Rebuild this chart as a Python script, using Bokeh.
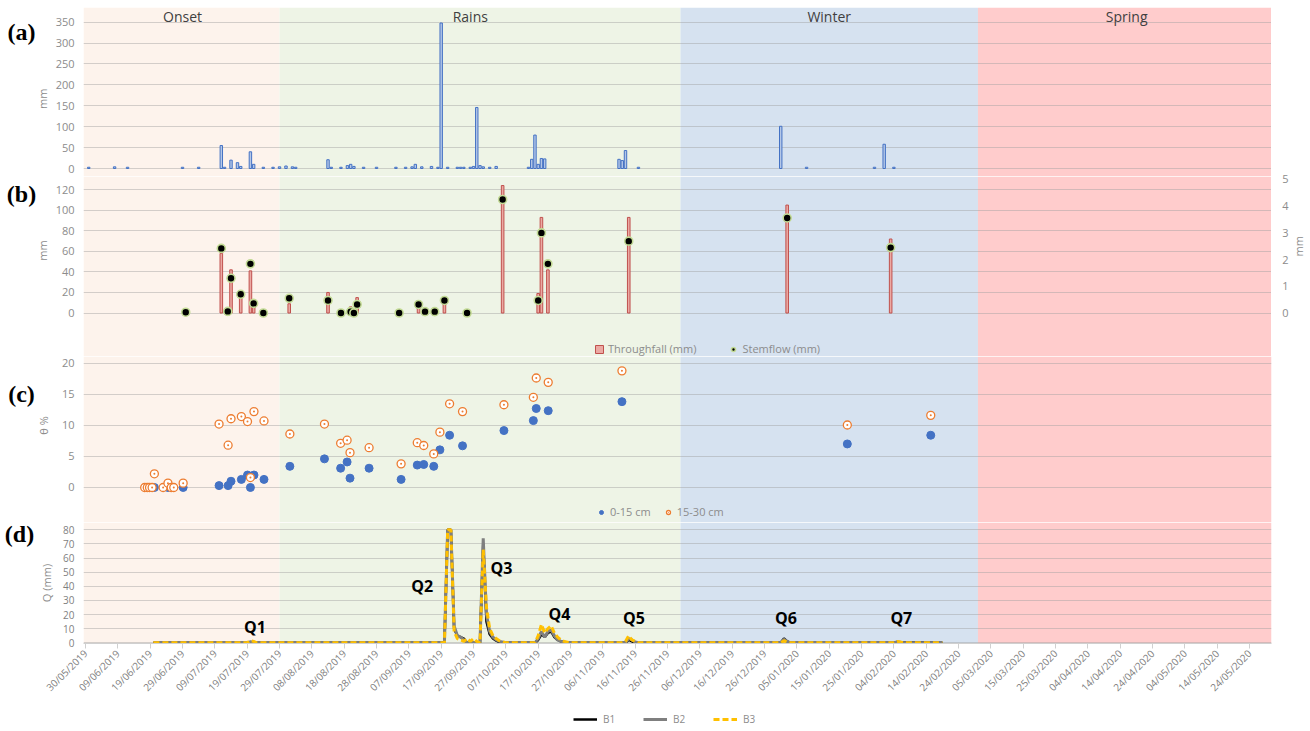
import math
from datetime import datetime, timedelta
from bokeh.plotting import figure
from bokeh.models import (Range1d, FixedTicker, DatetimeTickFormatter, BoxAnnotation,
                          Label, Legend, LegendItem)
from bokeh.layouts import column, row
from bokeh.embed import file_html
from bokeh.resources import INLINE
from bokeh.core.properties import value

# ---------------- data (x values are days since 30/05/2019) ----------------
START = datetime(2019, 5, 30)

X_TICK_LABELS = ["30/05/2019", "09/06/2019", "19/06/2019", "29/06/2019", "09/07/2019", "19/07/2019",
                 "29/07/2019", "08/08/2019", "18/08/2019", "28/08/2019", "07/09/2019", "17/09/2019",
                 "27/09/2019", "07/10/2019", "17/10/2019", "27/10/2019", "06/11/2019", "16/11/2019",
                 "26/11/2019", "06/12/2019", "16/12/2019", "26/12/2019", "05/01/2020", "15/01/2020",
                 "25/01/2020", "04/02/2020", "14/02/2020", "24/02/2020", "05/03/2020", "15/03/2020",
                 "25/03/2020", "04/04/2020", "14/04/2020", "24/04/2020", "04/05/2020", "14/05/2020",
                 "24/05/2020"]

SEASONS = ["Onset", "Rains", "Winter", "Spring"]
SEASON_STARTS = [None, "2019-07-29", "2019-11-30", "2020-03-01"]
SEASON_LABEL_AT = ["2019-06-29", "2019-09-26", "2020-01-15", "2020-04-16"]
SEASON_COLORS = ["#FDF3EC", "#EEF4E6", "#D6E2F0", "#FFCCCC"]

# (a) rainfall (mm)
RAIN_DAY = [1, 9, 13, 30, 35, 42, 43, 45, 47, 48, 51, 52, 55, 58, 60, 62, 64, 65, 75, 76,
            79, 81, 82, 83, 86, 90, 96, 99, 101, 102, 104, 107, 109, 110, 112, 115, 116, 117, 119, 120,
            121, 122, 123, 125, 127, 137, 138, 139, 140, 141, 142, 165, 166, 167, 171, 215, 223, 244, 247, 250]
RAIN_MM = [3, 4, 3, 3, 3, 55, 3, 20, 14, 5, 40, 10, 3, 3, 4, 6, 4, 3, 21, 3,
           3, 7, 10, 5, 3, 3, 3, 3, 4, 10, 4, 5, 3, 348, 3, 3, 3, 3, 3, 5,
           146, 7, 4, 3, 5, 3, 22, 80, 10, 24, 23, 22, 19, 43, 3, 101, 3, 3, 58, 3]

# (b) throughfall (mm, left axis) and stemflow (mm, right axis)
TF_DAY = [42, 45, 48, 51, 52, 63, 75, 82, 84, 103, 111, 129, 140, 141, 143, 168, 217, 249]
TF_MM = [58, 42, 16, 41, 6, 9, 20, 6, 15, 8, 9, 124, 19, 93, 42, 93, 105, 72]
SF_DAY = [31, 42, 44, 45, 48, 51, 52, 55, 63, 75, 79, 82, 83, 84, 97, 103, 105, 108, 111, 118,
          129, 140, 141, 143, 168, 217, 249]
SF_MM = [0.03, 2.42, 0.06, 1.3, 0.7, 1.84, 0.36, 0.0, 0.55, 0.47, 0.0, 0.05, 0.0, 0.32, 0.0, 0.32,
         0.05, 0.05, 0.47, 0.0, 4.25, 0.47, 3.0, 1.84, 2.69, 3.56, 2.45]

# (c) soil moisture theta %
S15_DAY = [21.3, 25.5, 30.2, 41.3, 44.1, 45.0, 48.2, 50.1, 51.0, 52.1, 55.2, 63.2, 73.9, 78.9, 80.9,
           81.8, 87.7, 97.6, 102.6, 104.6, 107.7, 109.6, 112.6, 116.6, 129.4, 138.5, 139.4, 143.1,
           165.9, 235.6, 261.4]
S15_TH = [0, 0, 0, 0.3, 0.3, 1.0, 1.3, 2.0, 0, 2.0, 1.3, 3.4, 4.6, 3.1, 4.1,
          1.5, 3.1, 1.3, 3.6, 3.7, 3.4, 6.05, 8.4, 6.7, 9.15, 10.75, 12.7, 12.35,
          13.8, 7.0, 8.4]
S30_DAY = [18.3, 19.1, 19.8, 20.6, 21.3, 24.0, 25.5, 26.5, 27.3, 30.2, 41.3, 44.1, 45.0, 48.2, 50.1,
           51.0, 52.1, 55.2, 63.2, 73.9, 78.9, 80.9, 81.8, 87.7, 97.6, 102.6, 104.6, 107.7, 109.6,
           112.6, 116.6, 129.4, 138.5, 139.4, 143.1, 165.9, 235.6, 261.4]
S30_TH = [0, 0, 0, 0, 2.2, 0, 0.7, 0, 0, 0.7, 10.2, 6.8, 11.05, 11.4, 10.6,
          1.6, 12.2, 10.7, 8.6, 10.2, 7.1, 7.6, 5.6, 6.4, 3.8, 7.2, 6.75, 5.4, 8.9,
          13.45, 12.2, 13.3, 14.5, 17.6, 16.9, 18.75, 10.05, 11.6]

# (d) discharge Q (mm)
B1_DAY = [21, 50, 51, 52, 53, 111, 112, 113, 114, 115, 116, 117, 118, 122, 123, 124, 125, 126, 127, 128, 129,
          139, 140, 141, 142, 143, 144, 145, 146, 147, 149, 167, 168, 169, 170, 215, 216, 217, 218,
          250, 251, 252, 265]
B1_Q = [0, 0, 0.5, 0.3, 0, 0, 80, 80, 10, 5, 4, 3, 0, 0, 70, 15, 6, 3, 1.5, 0.5, 0,
        0, 2, 6, 4, 7, 8, 4, 2, 1, 0, 0, 2, 1, 0, 0, 3, 1, 0,
        0, 0.5, 0.3, 0]
B2_DAY = [21, 50, 51, 53, 111, 112, 113, 114, 115, 116, 117, 118, 122, 123, 124, 125, 126, 127, 128, 130,
          139, 140, 141, 142, 143, 144, 145, 146, 147, 149, 167, 168, 169, 170, 171, 215, 216, 217, 218,
          250, 251, 253, 265]
B2_Q = [0, 0, 0.5, 0, 0, 80, 80, 12, 5, 4, 2, 0, 0, 74, 20, 8, 4, 2, 1, 0,
        0, 3, 8, 4, 8, 9, 5, 2, 1, 0, 0, 3, 2, 0.5, 0, 0, 2.5, 1, 0,
        0, 0.5, 0, 0]
B3_DAY = [21, 50, 51, 52, 53, 111, 112, 113, 114, 115, 116, 117, 118, 119, 120, 121, 122, 123, 124, 125,
          126, 127, 128, 130, 139, 140, 141, 142, 143, 144, 145, 146, 147, 148, 150, 166, 167, 168, 169,
          170, 171, 215, 216, 217, 218, 250, 251, 252, 253, 265]
B3_Q = [0, 0, 1.5, 1, 0, 0, 80, 80, 8, 3, 2, 1, 3, 1, 3, 1, 0, 66, 25, 10,
        5, 3, 1.5, 0, 0, 5, 13, 7, 10, 12, 7, 4, 2, 1, 0, 0, 1, 5, 2,
        1, 0, 0, 1.5, 0.5, 0, 0, 1, 0.5, 0, 0]

Q_NAMES = ["Q1", "Q2", "Q3", "Q4", "Q5", "Q6", "Q7"]
Q_DAY = [52.4, 104.1, 128.6, 146.6, 169.6, 216.6, 252.3]
Q_Y = [11.5, 40.4, 53.3, 20.5, 17.7, 17.9, 17.7]

A_TICKS = [0, 50, 100, 150, 200, 250, 300, 350]
B_TICKS = [0, 20, 40, 60, 80, 100, 120]
B_RIGHT_TICKS = [0, 1, 2, 3, 4, 5]
C_TICKS = [0, 5, 10, 15, 20]
D_TICKS = [0, 10, 20, 30, 40, 50, 60, 70, 80]

# ---------------- helpers ----------------
DAY_MS = 86400000.0
EPOCH = datetime(1970, 1, 1)


def ms(dt):
    return (dt - EPOCH).total_seconds() * 1000.0


def days_to_dt(days):
    return [START + timedelta(days=float(d)) for d in days]


X0 = START + timedelta(days=-0.62)
X1 = X0 + timedelta(days=367.4)
xr = Range1d(ms(X0), ms(X1))

FONT = "Open Sans"
GRAY = "#8C8C8C"


def style_yaxis(ax, size="11px", color=GRAY, standoff=9):
    ax.axis_line_color = None
    ax.major_tick_line_color = None
    ax.minor_tick_line_color = None
    ax.major_tick_in = 0
    ax.major_tick_out = 0
    ax.minor_tick_in = 0
    ax.minor_tick_out = 0
    ax.major_label_text_color = color
    ax.major_label_text_font = FONT
    ax.major_label_text_font_size = size
    ax.major_label_standoff = standoff


def make_panel(width, height, y0, y1, ticks, left=33, right=39, top=0, bottom=0):
    p = figure(width=width, height=height, x_range=xr, y_range=Range1d(y0, y1),
               x_axis_type="datetime", x_axis_location="below" if bottom else None,
               toolbar_location=None, tools="", output_backend="svg", title=None,
               min_border_left=left, min_border_right=right, min_border_top=top, min_border_bottom=bottom)
    p.outline_line_color = None
    p.background_fill_color = "white"
    p.border_fill_color = "white"
    p.xgrid.visible = False
    ax = p.yaxis[0]
    ax.ticker = FixedTicker(ticks=ticks)
    style_yaxis(ax)
    p.ygrid.grid_line_color = "#A0A0A0"
    p.ygrid.grid_line_alpha = 0.45
    bounds = [ms(X0)] + [ms(datetime.fromisoformat(s)) for s in SEASON_STARTS[1:]] + [ms(X1)]
    for i, c in enumerate(SEASON_COLORS):
        p.add_layout(BoxAnnotation(left=bounds[i], right=bounds[i + 1], fill_color=c, fill_alpha=1.0,
                                   line_color=None, level="image"))
    return p


def side_fig(width, height, y_range=None, left=0):
    f = figure(width=width, height=height, x_range=Range1d(0, width - left),
               y_range=y_range if y_range is not None else Range1d(0, height),
               x_axis_location=None, y_axis_location="left" if left else None,
               toolbar_location=None, tools="", output_backend="svg", title=None,
               min_border=0, min_border_left=left)
    f.outline_line_color = None
    f.grid.visible = False
    f.border_fill_color = "white"
    f.background_fill_color = "white"
    return f


def side_text(f, texts, xs, ys, size="11px", color=GRAY, angle=0.0, font=FONT, style="normal"):
    f.text(x=xs, y=ys, text=texts, angle=angle, text_font=value(font), text_font_size=size,
           text_color=color, text_font_style=style, text_align="center", text_baseline="middle")


# page rows: A 0..176 (frame 7..176), B 176..356, C 356..522, D 522..705 (frame 522..643), legend 705..731
# ---------------- (a) ----------------
pa = make_panel(1221, 176, -19.1, 385.1, A_TICKS, right=0, top=7)
pa.vbar(x=days_to_dt(RAIN_DAY), top=RAIN_MM, bottom=0, width=0.75 * DAY_MS,
        fill_color="#B4C7E7", line_color="#4472C4", line_width=1)
for name, at in zip(SEASONS, SEASON_LABEL_AT):
    pa.add_layout(Label(x=ms(datetime.fromisoformat(at)), y=160, x_units="data", y_units="screen",
                        text=name, text_font=FONT, text_font_size="14px", text_color="#404040",
                        text_align="center", text_baseline="middle"))
la = side_fig(50, 176)
side_text(la, ["(a)"], [21], [151], size="24px", color="black", font="Liberation Serif", style="bold")
side_text(la, ["mm"], [42], [81], angle=math.pi / 2)

# ---------------- (b) ----------------
SF_RANGE_B = (-1.629, 5.112)
pb = make_panel(1221, 180, -42.3, 132.8, B_TICKS, right=0)
pb.extra_y_ranges = {"sf": Range1d(*SF_RANGE_B)}
tf_r = pb.vbar(x=days_to_dt(TF_DAY), top=TF_MM, bottom=0, width=0.8 * DAY_MS,
               fill_color="#EBA9A3", line_color="#C0504D", line_width=1)
sf_r = pb.scatter(x=days_to_dt(SF_DAY), y=SF_MM, y_range_name="sf", size=8, marker="circle",
                  fill_color="black", line_color="#C3DB95", line_width=1.6)
leg_b = Legend(items=[LegendItem(label="Throughfall (mm)", renderers=[tf_r]),
                      LegendItem(label="Stemflow (mm)", renderers=[sf_r])],
               location=(511, 0), orientation="horizontal", background_fill_alpha=0,
               border_line_color=None, label_text_font=FONT, label_text_font_size="11px",
               label_text_color=GRAY, glyph_width=10, glyph_height=10, label_height=12,
               spacing=32, padding=0, margin=0, label_standoff=4)
pb.add_layout(leg_b, "center")
lb = side_fig(50, 180)
side_text(lb, ["(b)"], [21], [163], size="24px", color="black", font="Liberation Serif", style="bold")
side_text(lb, ["mm"], [42], [106], angle=math.pi / 2)

# right (stemflow) axis: its own strip spanning rows A and B, same scale as the "sf" range of (b)
# strip page y 0..356; stemflow zero at page y 312.5 -> same mapping as SF_RANGE_B
px_per_unit = 180.0 / (SF_RANGE_B[1] - SF_RANGE_B[0])
r_top = SF_RANGE_B[1] + 176.0 / px_per_unit
rs = side_fig(39, 356, y_range=Range1d(SF_RANGE_B[0], r_top), left=20)
rs.yaxis[0].ticker = FixedTicker(ticks=B_RIGHT_TICKS)
style_yaxis(rs.yaxis[0], standoff=3)
side_text(rs, ["mm"], [7], [2.5], angle=math.pi / 2)

# ---------------- (c) ----------------
pc = make_panel(1260, 166, -5.63, 21.06, C_TICKS)
s15 = pc.scatter(x=days_to_dt(S15_DAY), y=S15_TH, size=8, marker="circle",
                 fill_color="#4472C4", line_color="#4472C4", line_width=1)
s30 = pc.scatter(x=days_to_dt(S30_DAY), y=S30_TH, size=8, marker="circle_dot",
                 fill_color="white", line_color="#ED7D31", line_width=1.3)
leg_c = Legend(items=[LegendItem(label="0-15 cm", renderers=[s15]),
                      LegendItem(label="15-30 cm", renderers=[s30])],
               location=(513, 3), orientation="horizontal", background_fill_alpha=0,
               border_line_color=None, label_text_font=FONT, label_text_font_size="11px",
               label_text_color=GRAY, glyph_width=10, glyph_height=10, label_height=12,
               spacing=12, padding=0, margin=0, label_standoff=4)
pc.add_layout(leg_c, "center")
lc = side_fig(50, 166)
side_text(lc, ["(c)"], [21], [129], size="24px", color="black", font="Liberation Serif", style="bold")
side_text(lc, ["θ %"], [43], [97], angle=math.pi / 2)

# ---------------- (d) ----------------
pd_ = make_panel(1274, 183, -0.5, 85.16, D_TICKS, left=47, bottom=62)
l1 = pd_.line(x=days_to_dt(B1_DAY), y=B1_Q, line_color="black", line_width=2.5)
l2 = pd_.line(x=days_to_dt(B2_DAY), y=B2_Q, line_color="#7F7F7F", line_width=3)
l3 = pd_.line(x=days_to_dt(B3_DAY), y=B3_Q, line_color="#FFC000", line_width=3, line_dash="6 3")
pd_.text(x=days_to_dt(Q_DAY), y=Q_Y, text=Q_NAMES, text_font=value(FONT), text_font_style="bold",
         text_font_size="16px", text_color="black", text_align="center", text_baseline="middle")
xax = pd_.xaxis[0]
xax.ticker = FixedTicker(ticks=[ms(datetime.strptime(s, "%d/%m/%Y")) for s in X_TICK_LABELS])
fmt = "%d/%m/%Y"
xax.formatter = DatetimeTickFormatter(milliseconds=fmt, seconds=fmt, minsec=fmt, minutes=fmt,
                                      hourmin=fmt, hours=fmt, days=fmt, months=fmt, years=fmt)
xax.major_label_orientation = math.pi / 4
xax.major_label_text_color = "#7F7F7F"
xax.major_label_text_font = FONT
xax.major_label_text_font_size = "10px"
xax.axis_line_color = "#D0D0D0"
xax.major_tick_line_color = "#D0D0D0"
xax.major_tick_in = 0
xax.major_tick_out = 5
xax.minor_tick_line_color = None
xax.major_label_standoff = 3
yax = pd_.yaxis[0]
style_yaxis(yax, size="10px", color="#7F7F7F")
yax.axis_label = "Q (mm)"
yax.axis_label_text_font = FONT
yax.axis_label_text_font_size = "11px"
yax.axis_label_text_font_style = "normal"
yax.axis_label_text_color = GRAY
yax.axis_label_standoff = 6
ld = side_fig(36, 183)
side_text(ld, ["(d)"], [19], [165], size="24px", color="black", font="Liberation Serif", style="bold")

# ---------------- legend row for (d) ----------------
pl = side_fig(1310, 26)
g1 = pl.line(x=[-50, -40], y=[-50, -50], line_color="black", line_width=2.5)
g2 = pl.line(x=[-50, -40], y=[-50, -50], line_color="#7F7F7F", line_width=3)
g3 = pl.line(x=[-50, -40], y=[-50, -50], line_color="#FFC000", line_width=3, line_dash="6 3")
leg_d = Legend(items=[LegendItem(label="B1", renderers=[g1]), LegendItem(label="B2", renderers=[g2]),
                      LegendItem(label="B3", renderers=[g3])],
               location=(573, 5), orientation="horizontal", background_fill_alpha=0,
               border_line_color=None, label_text_font=FONT, label_text_font_size="10px",
               label_text_color=GRAY, glyph_width=24, glyph_height=12, label_height=12,
               spacing=20, padding=0, margin=0, label_standoff=6)
pl.add_layout(leg_d, "center")

top_block = row(column(row(la, pa, spacing=0), row(lb, pb, spacing=0), spacing=0), rs, spacing=0)
layout = column(top_block, row(lc, pc, spacing=0), row(ld, pd_, spacing=0), pl, spacing=0)
open("out.html", "w").write(file_html(layout, INLINE))
